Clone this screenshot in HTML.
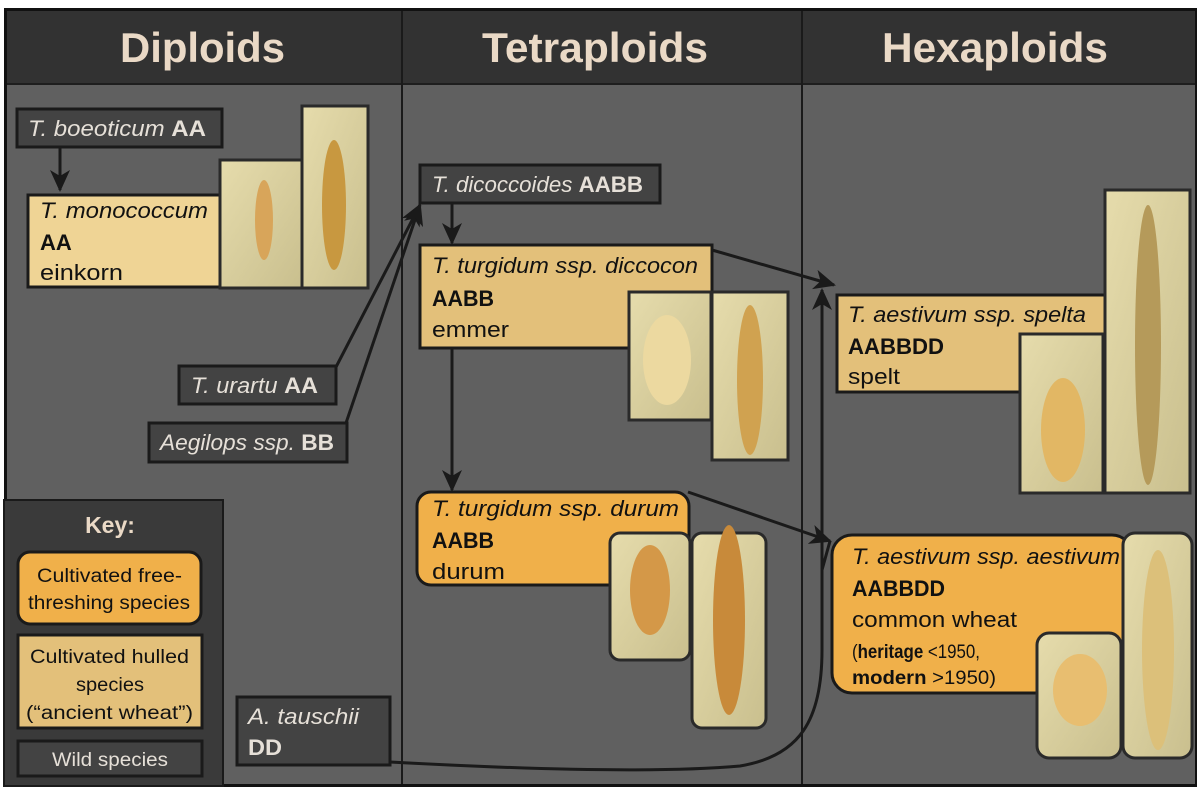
<!DOCTYPE html>
<html><head><meta charset="utf-8"><style>
html,body{margin:0;padding:0;background:#fff;}
svg{display:block}
text{font-family:"Liberation Sans",sans-serif;}
</style></head><body>
<svg width="1200" height="790" viewBox="0 0 1200 790" xmlns="http://www.w3.org/2000/svg">
<defs>
<marker id="ah" markerWidth="22" markerHeight="22" refX="20" refY="11" orient="auto" markerUnits="userSpaceOnUse" viewBox="0 0 22 22">
<path d="M0,1 L22,11 L0,21 L6,11 Z" fill="#1a1a1a"/></marker>
<linearGradient id="ph" x1="0" y1="0" x2="1" y2="1"><stop offset="0" stop-color="#e6dcac"/><stop offset="1" stop-color="#c9bf8e"/></linearGradient>
</defs>
<rect x="0" y="0" width="1200" height="790" fill="#fff"/>
<rect x="4" y="8" width="1193" height="779" fill="#111"/>
<rect x="7" y="11" width="1188" height="773" fill="#606060"/>
<rect x="7" y="11" width="1188" height="73" fill="#323232"/>
<line x1="7" y1="84" x2="1195" y2="84" stroke="#1e1e1e" stroke-width="2"/>
<line x1="402" y1="11" x2="402" y2="784" stroke="#1a1a1a" stroke-width="2"/>
<line x1="802" y1="11" x2="802" y2="784" stroke="#1a1a1a" stroke-width="2"/>
<g font-weight="bold" font-size="42" fill="#ead9c6">
<text x="120" y="62" textLength="165" lengthAdjust="spacingAndGlyphs">Diploids</text>
<text x="482" y="62" textLength="226" lengthAdjust="spacingAndGlyphs">Tetraploids</text>
<text x="882" y="62" textLength="226" lengthAdjust="spacingAndGlyphs">Hexaploids</text>
</g>

<!-- connectors -->
<g stroke="#1a1a1a" stroke-width="3" fill="none">
<line x1="60" y1="147" x2="60" y2="190" marker-end="url(#ah)"/>
<line x1="336" y1="367" x2="420" y2="205" marker-end="url(#ah)"/>
<line x1="346" y1="423" x2="420" y2="205" marker-end="url(#ah)"/>
<line x1="452" y1="203" x2="452" y2="243" marker-end="url(#ah)"/>
<line x1="452" y1="348" x2="452" y2="490" marker-end="url(#ah)"/>
<line x1="712" y1="250" x2="834" y2="285" marker-end="url(#ah)"/>
<line x1="688" y1="492" x2="830" y2="541" marker-end="url(#ah)"/>
<path d="M390,762 C500,768 650,774 740,766 C800,756 822,720 822,650 L822,290" marker-end="url(#ah)"/>
<line x1="822" y1="570" x2="830" y2="541"/>
</g>

<!-- Diploids -->
<rect x="17" y="109" width="205" height="38" fill="#434343" stroke="#1a1a1a" stroke-width="3"/>
<text x="28" y="136" font-size="22" fill="#e6e0d8" textLength="178" lengthAdjust="spacingAndGlyphs"><tspan font-style="italic">T. boeoticum </tspan><tspan font-weight="bold">AA</tspan></text>
<rect x="28" y="195" width="194" height="92" fill="#efd495" stroke="#1a1a1a" stroke-width="3"/>
<text x="40" y="218" font-size="22" font-style="italic" fill="#111" textLength="168" lengthAdjust="spacingAndGlyphs">T. monococcum</text>
<text x="40" y="250" font-size="22" font-weight="bold" fill="#111">AA</text>
<text x="40" y="280" font-size="22" fill="#111" textLength="83" lengthAdjust="spacingAndGlyphs">einkorn</text>
<rect x="220" y="160" width="82" height="128" fill="url(#ph)" stroke="#2a2a2a" stroke-width="3"/>
<ellipse cx="264" cy="220" rx="9" ry="40" fill="#d8a55a"/>
<rect x="302" y="106" width="66" height="182" fill="url(#ph)" stroke="#2a2a2a" stroke-width="3"/>
<ellipse cx="334" cy="205" rx="12" ry="65" fill="#c89840"/>

<rect x="179" y="366" width="157" height="38" fill="#434343" stroke="#1a1a1a" stroke-width="3"/>
<text x="191" y="393" font-size="22" fill="#e6e0d8" textLength="127" lengthAdjust="spacingAndGlyphs"><tspan font-style="italic">T. urartu </tspan><tspan font-weight="bold">AA</tspan></text>
<rect x="149" y="423" width="198" height="39" fill="#434343" stroke="#1a1a1a" stroke-width="3"/>
<text x="160" y="450" font-size="22" fill="#e6e0d8" textLength="174" lengthAdjust="spacingAndGlyphs"><tspan font-style="italic">Aegilops ssp. </tspan><tspan font-weight="bold">BB</tspan></text>

<!-- Key -->
<rect x="4" y="500" width="219" height="286" fill="#3a3a3a" stroke="#1a1a1a" stroke-width="2"/>
<text x="110" y="533" font-size="23" font-weight="bold" fill="#ead9c6" text-anchor="middle">Key:</text>
<rect x="18" y="552" width="183" height="72" rx="12" fill="#f0b04a" stroke="#1a1a1a" stroke-width="3"/>
<g font-size="19" fill="#111">
<text x="37" y="582" textLength="145" lengthAdjust="spacingAndGlyphs">Cultivated free-</text>
<text x="28" y="609" textLength="162" lengthAdjust="spacingAndGlyphs">threshing species</text>
</g>
<rect x="18" y="635" width="184" height="93" fill="#e3c07a" stroke="#1a1a1a" stroke-width="3"/>
<g font-size="19" fill="#111">
<text x="30" y="663" textLength="159" lengthAdjust="spacingAndGlyphs">Cultivated hulled</text>
<text x="76" y="691" textLength="68" lengthAdjust="spacingAndGlyphs">species</text>
<text x="26" y="719" textLength="167" lengthAdjust="spacingAndGlyphs">(“ancient wheat”)</text>
</g>
<rect x="18" y="741" width="184" height="35" fill="#434343" stroke="#1a1a1a" stroke-width="3"/>
<text x="52" y="766" font-size="19" fill="#e6e0d8" textLength="116" lengthAdjust="spacingAndGlyphs">Wild species</text>

<rect x="237" y="697" width="153" height="68" fill="#434343" stroke="#1a1a1a" stroke-width="3"/>
<text x="248" y="724" font-size="22" font-style="italic" fill="#e6e0d8" textLength="111" lengthAdjust="spacingAndGlyphs">A. tauschii</text>
<text x="248" y="755" font-size="22" font-weight="bold" fill="#e6e0d8" textLength="34" lengthAdjust="spacingAndGlyphs">DD</text>

<!-- Tetraploids -->
<rect x="420" y="165" width="240" height="38" fill="#434343" stroke="#1a1a1a" stroke-width="3"/>
<text x="432" y="192" font-size="22" fill="#e6e0d8" textLength="211" lengthAdjust="spacingAndGlyphs"><tspan font-style="italic">T. dicoccoides </tspan><tspan font-weight="bold">AABB</tspan></text>
<rect x="420" y="245" width="292" height="103" fill="#e3c07a" stroke="#1a1a1a" stroke-width="3"/>
<text x="432" y="273" font-size="22" font-style="italic" fill="#111" textLength="266" lengthAdjust="spacingAndGlyphs">T. turgidum ssp. diccocon</text>
<text x="432" y="306" font-size="22" font-weight="bold" fill="#111" textLength="62" lengthAdjust="spacingAndGlyphs">AABB</text>
<text x="432" y="337" font-size="22" fill="#111" textLength="77" lengthAdjust="spacingAndGlyphs">emmer</text>
<rect x="629" y="292" width="82" height="128" fill="url(#ph)" stroke="#2a2a2a" stroke-width="3"/>
<ellipse cx="667" cy="360" rx="24" ry="45" fill="#ecd9a0"/>
<rect x="712" y="292" width="76" height="168" fill="url(#ph)" stroke="#2a2a2a" stroke-width="3"/>
<ellipse cx="750" cy="380" rx="13" ry="75" fill="#d0a250"/>

<rect x="417" y="492" width="272" height="93" rx="14" fill="#f0b04a" stroke="#1a1a1a" stroke-width="3"/>
<text x="432" y="516" font-size="22" font-style="italic" fill="#111" textLength="247" lengthAdjust="spacingAndGlyphs">T. turgidum ssp. durum</text>
<text x="432" y="548" font-size="22" font-weight="bold" fill="#111" textLength="62" lengthAdjust="spacingAndGlyphs">AABB</text>
<text x="432" y="579" font-size="22" fill="#111" textLength="73" lengthAdjust="spacingAndGlyphs">durum</text>
<rect x="610" y="533" width="80" height="127" rx="10" fill="url(#ph)" stroke="#2a2a2a" stroke-width="3"/>
<ellipse cx="650" cy="590" rx="20" ry="45" fill="#d49848"/>
<rect x="692" y="533" width="74" height="195" rx="10" fill="url(#ph)" stroke="#2a2a2a" stroke-width="3"/>
<ellipse cx="729" cy="620" rx="16" ry="95" fill="#c88a3a"/>

<!-- Hexaploids -->
<rect x="837" y="295" width="268" height="97" fill="#e3c07a" stroke="#1a1a1a" stroke-width="3"/>
<text x="848" y="322" font-size="22" font-style="italic" fill="#111" textLength="238" lengthAdjust="spacingAndGlyphs">T. aestivum ssp. spelta</text>
<text x="848" y="354" font-size="22" font-weight="bold" fill="#111" textLength="96" lengthAdjust="spacingAndGlyphs">AABBDD</text>
<text x="848" y="384" font-size="22" fill="#111" textLength="52" lengthAdjust="spacingAndGlyphs">spelt</text>
<rect x="1020" y="334" width="83" height="159" fill="url(#ph)" stroke="#2a2a2a" stroke-width="3"/>
<ellipse cx="1063" cy="430" rx="22" ry="52" fill="#e2b764"/>
<rect x="1105" y="190" width="85" height="303" fill="url(#ph)" stroke="#2a2a2a" stroke-width="3"/>
<ellipse cx="1148" cy="345" rx="13" ry="140" fill="#b59a5a"/>

<rect x="832" y="535" width="300" height="158" rx="20" fill="#f0b04a" stroke="#1a1a1a" stroke-width="3"/>
<text x="852" y="564" font-size="22" font-style="italic" fill="#111" textLength="268" lengthAdjust="spacingAndGlyphs">T. aestivum ssp. aestivum</text>
<text x="852" y="596" font-size="22" font-weight="bold" fill="#111" textLength="93" lengthAdjust="spacingAndGlyphs">AABBDD</text>
<text x="852" y="627" font-size="22" fill="#111" textLength="165" lengthAdjust="spacingAndGlyphs">common wheat</text>
<text x="852" y="658" font-size="19" fill="#111" textLength="128" lengthAdjust="spacingAndGlyphs">(<tspan font-weight="bold">heritage</tspan> &lt;1950,</text>
<text x="852" y="684" font-size="19" fill="#111" textLength="144" lengthAdjust="spacingAndGlyphs"><tspan font-weight="bold">modern</tspan> &gt;1950)</text>
<rect x="1037" y="633" width="84" height="125" rx="12" fill="url(#ph)" stroke="#2a2a2a" stroke-width="3"/>
<ellipse cx="1080" cy="690" rx="27" ry="36" fill="#e8be70"/>
<rect x="1123" y="533" width="69" height="225" rx="12" fill="url(#ph)" stroke="#2a2a2a" stroke-width="3"/>
<ellipse cx="1158" cy="650" rx="16" ry="100" fill="#dcc07a"/>
</svg>
</body></html>
